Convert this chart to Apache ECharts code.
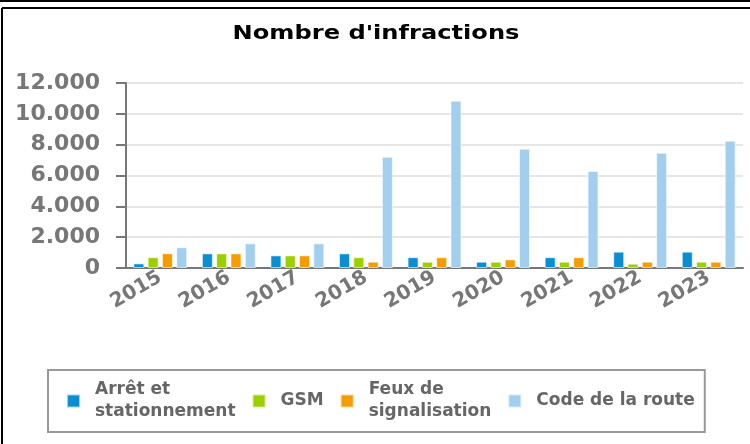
<!DOCTYPE html>
<html><head><meta charset="utf-8">
<script src="https://cdn.jsdelivr.net/npm/echarts@6/dist/echarts.min.js"></script>
<style>html,body{margin:0;padding:0;background:#fff}#c{width:750px;height:444px}</style>
</head><body><div id="c"></div>
<script>
var years = ['2015','2016','2017','2018','2019','2020','2021','2022','2023'];
var arret = [300, 950, 820, 950, 700, 410, 700, 1060, 1060];
var gsm = [700, 950, 820, 700, 410, 410, 410, 280, 410];
var feux = [960, 950, 820, 410, 700, 560, 700, 410, 410];
var code = [1350, 1600, 1600, 7220, 10850, 7740, 6290, 7480, 8260];
var yTicks = [0, 2000, 4000, 6000, 8000, 10000, 12000];
var names = ['Arrêt et\nstationnement', 'GSM', 'Feux de\nsignalisation', 'Code de la route'];
var colors = ['#0a8ed2', '#9ccf00', '#f49c00', '#a2cfee'];
var titleText = "Nombre d'infractions";

function fmt(v){ return String(v).replace(/\B(?=(\d{3})+(?!\d))/g, '.'); }

var chart = echarts.init(document.getElementById('c'));
var seriesData = [arret, gsm, feux, code];
chart.setOption({
  animation: false,
  color: colors,
  legend: {
    left: 48, top: 370,
    padding: [9, 10, 9, 18],
    borderColor: '#999', borderWidth: 2,
    itemWidth: 13, itemHeight: 13, itemGap: 16,
    icon: 'rect',
    textStyle: {fontFamily: 'DejaVu Sans', fontWeight: 'bold', fontSize: 17, color: '#666', lineHeight: 22,
      padding: [0, 0, 0, 10]},
    data: names
  },
  grid: {left: 126, right: 7, top: 83, bottom: 176, containLabel: false},
  xAxis: {
    type: 'category', data: years,
    axisLine: {lineStyle: {color: '#777', width: 2}},
    axisTick: {length: 6, lineStyle: {color: '#777', width: 2}},
    axisLabel: {rotate: 30, interval: 0, margin: 8, fontFamily: 'DejaVu Sans', fontWeight: 'bold', fontSize: 20, color: '#777'}
  },
  yAxis: {
    type: 'value', min: 0, max: 12000, interval: 2000,
    axisLine: {show: true, lineStyle: {color: '#777', width: 2}},
    axisTick: {show: true, length: 10, lineStyle: {color: '#777', width: 2}},
    splitLine: {lineStyle: {color: '#e6e6e6', width: 2}},
    axisLabel: {margin: 26, fontFamily: 'DejaVu Sans', fontWeight: 'bold', fontSize: 22, color: '#777',
      formatter: function(v){ return fmt(v); }}
  },
  series: seriesData.map(function(d, i){
    return {
      name: names[i], type: 'bar', data: d, barWidth: 11, barGap: '30%',
      itemStyle: {color: colors[i], borderColor: 'rgba(255,255,255,0.6)', borderWidth: 1}
    };
  }),
  graphic: [
    {type: 'text', x: 376, y: 34, scaleX: 1.27, scaleY: 1, silent: true,
      style: {text: titleText, font: 'bold 19px "DejaVu Sans"', fill: '#000', align: 'center', verticalAlign: 'middle'}},
    {type: 'line', shape: {x1: 0, y1: 1, x2: 750, y2: 1}, style: {stroke: '#000', lineWidth: 2}, silent: true},
    {type: 'line', shape: {x1: 2, y1: 8, x2: 750, y2: 8}, style: {stroke: '#000', lineWidth: 2}, silent: true},
    {type: 'line', shape: {x1: 2, y1: 8, x2: 2, y2: 444}, style: {stroke: '#000', lineWidth: 2}, silent: true}
  ]
});
</script></body></html>
